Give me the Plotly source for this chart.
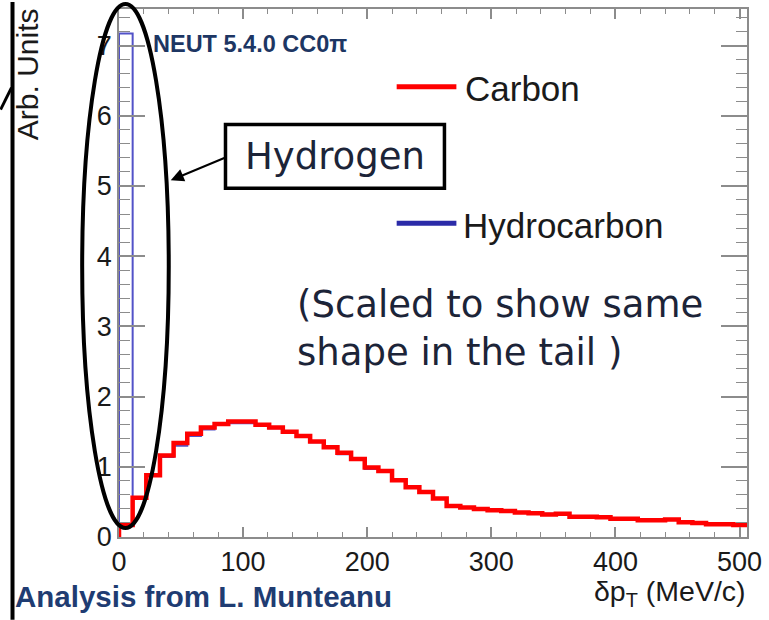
import numpy as np
import plotly.graph_objects as go

# delta p_T distribution, NEUT 5.4.0 CC0pi (arbitrary units), 11 MeV/c bins from 0
bin_width = 11.0
carbon = [0.17, 0.56, 0.88, 1.16, 1.34, 1.47, 1.56, 1.61, 1.645, 1.645,
          1.60, 1.56, 1.50, 1.44, 1.36, 1.28, 1.20, 1.11, 0.99, 0.94,
          0.81, 0.71, 0.64, 0.55, 0.44, 0.42, 0.40, 0.38, 0.37, 0.35,
          0.34, 0.32, 0.33, 0.29, 0.29, 0.28, 0.26, 0.26, 0.24, 0.24,
          0.25, 0.21, 0.20, 0.18, 0.18, 0.17]
hydrocarbon = [7.17, 0.56, 0.87, 1.14, 1.30, 1.44, 1.53, 1.60, 1.62, 1.62,
               1.58, 1.55, 1.49, 1.43, 1.35, 1.27, 1.18, 1.10, 0.97, 0.93,
               0.80, 0.70, 0.63, 0.54, 0.44, 0.42, 0.40, 0.38, 0.37, 0.35,
               0.34, 0.33, 0.33, 0.29, 0.29, 0.28, 0.26, 0.26, 0.24, 0.24,
               0.25, 0.21, 0.20, 0.18, 0.18, 0.17]
x_ticks = [0, 100, 200, 300, 400, 500]
y_ticks = [0, 1, 2, 3, 4, 5, 6, 7]

W, H = 769, 620
ML, MR, MT, MB = 119, 19, 7, 83


def px(x):
    return (x - ML) / (W - ML - MR)


def py(y):
    return (H - MB - y) / (H - MT - MB)


def step_xy(values):
    edges = np.arange(len(values) + 1) * bin_width
    xs = np.concatenate([[0.0], edges])
    ys = np.concatenate([[0.0], values, [values[-1]]])
    return xs, ys


fig = go.Figure()
hx, hy = step_xy(hydrocarbon)
fig.add_trace(go.Scatter(x=hx, y=hy, mode="lines", line_shape="hv",
                         line=dict(color="#5252c8", width=2), name="Hydrocarbon",
                         showlegend=False, cliponaxis=True))
cx, cy = step_xy(carbon)
fig.add_trace(go.Scatter(x=cx, y=cy, mode="lines", line_shape="hv",
                         line=dict(color="#ff0000", width=4.5), name="Carbon",
                         showlegend=False, cliponaxis=True))

axis_grey = "#8c8c8c"
tick_font = dict(family="Liberation Sans, Arial, sans-serif", color="#1a1a1a")

fig.update_xaxes(range=[0, 46 * bin_width], tickvals=x_ticks, ticks="inside",
                 ticklen=10, tickwidth=1.5, tickcolor=axis_grey,
                 showline=True, linecolor=axis_grey, linewidth=1.5, mirror="ticks",
                 minor=dict(dtick=20, ticks="inside", ticklen=5, tickwidth=1.2,
                            tickcolor=axis_grey),
                 showgrid=False, zeroline=False,
                 tickfont=dict(size=27, **tick_font))
fig.update_yaxes(range=[0, 7.52], tickvals=y_ticks, ticks="inside",
                 ticklen=26, tickwidth=1.5, tickcolor=axis_grey,
                 showline=True, linecolor=axis_grey, linewidth=1.5, mirror="ticks",
                 minor=dict(dtick=0.2, ticks="inside", ticklen=11, tickwidth=1.2,
                            tickcolor=axis_grey),
                 showgrid=False, zeroline=False,
                 tickfont=dict(size=27, **tick_font))

shapes = []
# frame edge of the slide on the left
shapes.append(dict(type="line", xref="paper", yref="paper",
                   x0=px(12), x1=px(12), y0=py(0), y1=py(620),
                   line=dict(color="black", width=4)))
shapes.append(dict(type="line", xref="paper", yref="paper",
                   x0=px(0), x1=px(11), y0=py(108), y1=py(86),
                   line=dict(color="black", width=3)))
# ellipse around the hydrogen spike
shapes.append(dict(type="circle", xref="paper", yref="paper",
                   x0=px(82), x1=px(169), y0=py(528), y1=py(2),
                   line=dict(color="black", width=4)))
# "Hydrogen" callout box
shapes.append(dict(type="rect", xref="paper", yref="paper",
                   x0=px(226), x1=px(446), y0=py(187), y1=py(123),
                   line=dict(color="black", width=3.5), fillcolor="white"))
# legend samples
shapes.append(dict(type="line", xref="paper", yref="paper",
                   x0=px(398), x1=px(458), y0=py(85), y1=py(85),
                   line=dict(color="#ff0000", width=5)))
shapes.append(dict(type="line", xref="paper", yref="paper",
                   x0=px(398), x1=px(458), y0=py(222), y1=py(222),
                   line=dict(color="#2b2ba8", width=5)))

navy = "#1d3663"
dark = "#1c2438"
ann = []
ann.append(dict(text="Arb. Units", textangle=-90, x=px(27), y=py(72),
                xanchor="center", yanchor="middle",
                font=dict(size=30, family="Liberation Sans, Arial", color="#1a1a1a")))
ann.append(dict(text="δp<sub>T</sub> (MeV/c)", x=px(751), y=py(593),
                xanchor="right", yanchor="middle",
                font=dict(size=28.5, family="Liberation Sans, Arial", color="#1a1a1a")))
ann.append(dict(text="<b>NEUT 5.4.0 CC0π</b>", x=px(151), y=py(42),
                xanchor="left", yanchor="middle",
                font=dict(size=23.5, family="Liberation Sans, Arial", color=navy)))
ann.append(dict(text="<b>Analysis from L. Munteanu</b>", x=px(12), y=py(597),
                xanchor="left", yanchor="middle",
                font=dict(size=29.5, family="Liberation Sans, Arial", color="#1f3c72")))
ann.append(dict(text="Carbon", x=px(465), y=py(87), xanchor="left", yanchor="middle",
                font=dict(size=35, family="Liberation Sans, Arial", color="#1a1a1a")))
ann.append(dict(text="Hydrocarbon", x=px(463), y=py(224), xanchor="left", yanchor="middle",
                font=dict(size=35, family="Liberation Sans, Arial", color="#1a1a1a")))
ann.append(dict(text="Hydrogen", x=px(336), y=py(155), xanchor="center", yanchor="middle",
                font=dict(size=37, family="DejaVu Sans", color=dark)))
ann.append(dict(text="(Scaled to show same<br>shape in the tail )", x=px(296), y=py(328),
                xanchor="left", yanchor="middle", align="left",
                font=dict(size=37, family="DejaVu Sans", color=dark)))
# arrow from the box to the ellipse
ann.append(dict(text="", x=px(171), y=py(179), ax=55, ay=-23,
                showarrow=True, arrowhead=2, arrowsize=1.3, arrowwidth=2,
                arrowcolor="black"))
for a in ann:
    a.setdefault("xref", "paper")
    a.setdefault("yref", "paper")
    a.setdefault("showarrow", False)

fig.update_layout(width=W, height=H, margin=dict(l=ML, r=MR, t=MT, b=MB),
                  paper_bgcolor="white", plot_bgcolor="white",
                  shapes=shapes, annotations=ann, showlegend=False)
fig.write_html("out.html")
